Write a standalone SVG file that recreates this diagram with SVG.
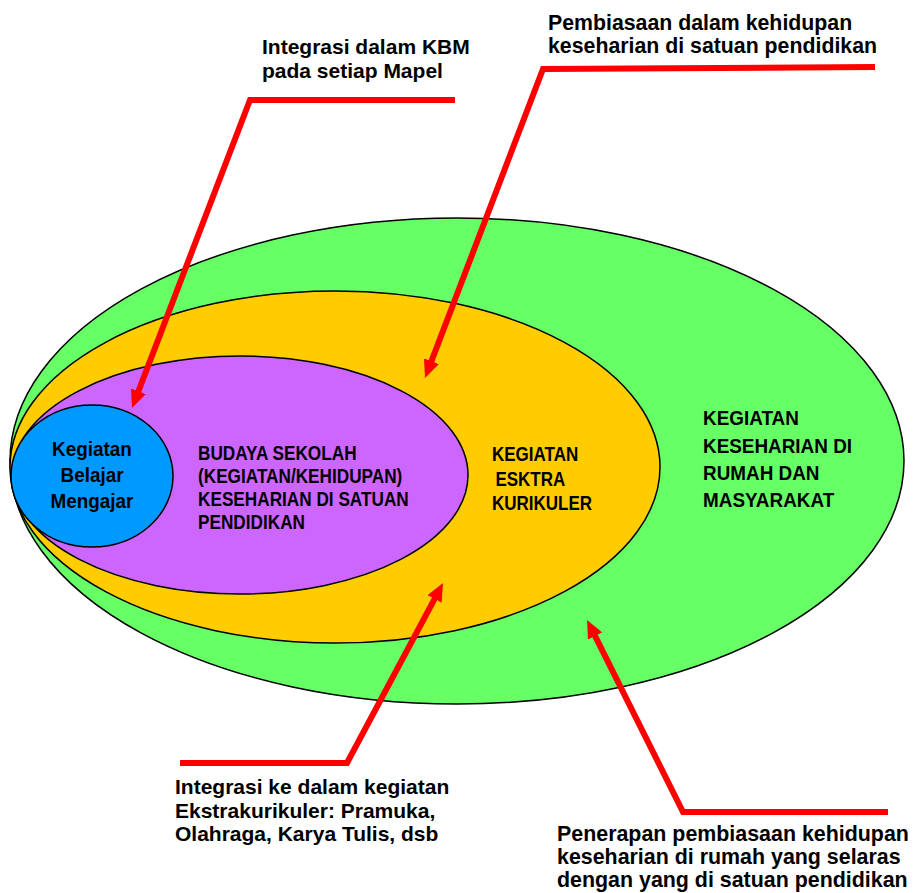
<svg xmlns="http://www.w3.org/2000/svg" width="913" height="893" viewBox="0 0 913 893">
<style>
.ell{stroke:#000;stroke-width:1.5}
.t{font-family:"Liberation Sans",Arial,sans-serif;font-weight:bold;fill:#000}
.conn{fill:none;stroke:#FF0000;stroke-width:6;stroke-linejoin:miter}
</style>
<defs>
<marker id="ah" markerUnits="userSpaceOnUse" markerWidth="18" markerHeight="16" viewBox="0 0 18 16" refX="6" refY="8" orient="auto">
<path d="M0,0 L18,8 L0,16 z" fill="#FF0000"/>
</marker>
</defs>
<rect width="913" height="893" fill="#fff"/>
<g id="rumah">
<ellipse class="ell" cx="457" cy="461" rx="447" ry="243" fill="#66FF66"/>
<text class="t" font-size="21" transform="matrix(0.9 0 0 1 703 0)"><tspan x="0" y="425">KEGIATAN</tspan><tspan x="0" y="453">KESEHARIAN DI</tspan><tspan x="0" y="480">RUMAH DAN</tspan><tspan x="0" y="507">MASYARAKAT</tspan></text>
</g>
<g id="ekstra">
<ellipse class="ell" cx="335" cy="467" rx="325" ry="176" fill="#FFCC00"/>
<text class="t" font-size="20" transform="matrix(0.85 0 0 1 492 0)"><tspan x="0" y="461">KEGIATAN</tspan><tspan x="4" y="486">ESKTRA</tspan><tspan x="0" y="510">KURIKULER</tspan></text>
</g>
<g id="budaya">
<ellipse class="ell" cx="240" cy="475" rx="228" ry="119" fill="#CC66FF"/>
<text class="t" font-size="20" transform="matrix(0.86 0 0 1 198 0)"><tspan x="0" y="460">BUDAYA SEKOLAH</tspan><tspan x="0" y="483">(KEGIATAN/KEHIDUPAN)</tspan><tspan x="0" y="506">KESEHARIAN DI SATUAN</tspan><tspan x="0" y="529">PENDIDIKAN</tspan></text>
</g>
<g id="kbm">
<ellipse class="ell" cx="92" cy="476" rx="81" ry="71" fill="#0099FF"/>
<text class="t" font-size="21" text-anchor="middle" transform="matrix(0.9 0 0 1 92 0)"><tspan x="0" y="456">Kegiatan</tspan><tspan x="0" y="482">Belajar</tspan><tspan x="0" y="508">Mengajar</tspan></text>
</g>
<g id="connectors">
<path class="conn" d="M455,100 L250,100 L136.3,396.8" marker-end="url(#ah)"/>
<path class="conn" d="M875,67 L543,69 L429.3,366.8" marker-end="url(#ah)"/>
<path class="conn" d="M180,763 L347,763 L437.4,593.6" marker-end="url(#ah)"/>
<path class="conn" d="M888,812 L683,812 L592.4,630.7" marker-end="url(#ah)"/>
</g>
<g id="label-kbm">
<text class="t" font-size="21"><tspan x="262" y="54">Integrasi dalam KBM</tspan><tspan x="262" y="78">pada setiap Mapel</tspan></text>
</g>
<g id="label-pembiasaan">
<text class="t" font-size="21.3"><tspan x="548" y="30">Pembiasaan dalam kehidupan</tspan><tspan x="548" y="53">keseharian di satuan pendidikan</tspan></text>
</g>
<g id="label-ekstra">
<text class="t" font-size="21"><tspan x="175" y="794">Integrasi ke dalam kegiatan</tspan><tspan x="175" y="818">Ekstrakurikuler: Pramuka,</tspan><tspan x="175" y="841">Olahraga, Karya Tulis, dsb</tspan></text>
</g>
<g id="label-rumah">
<text class="t" font-size="21.4"><tspan x="557" y="841">Penerapan pembiasaan kehidupan</tspan><tspan x="557" y="864">keseharian di rumah yang selaras</tspan><tspan x="557" y="887">dengan yang di satuan pendidikan</tspan></text>
</g>
</svg>
